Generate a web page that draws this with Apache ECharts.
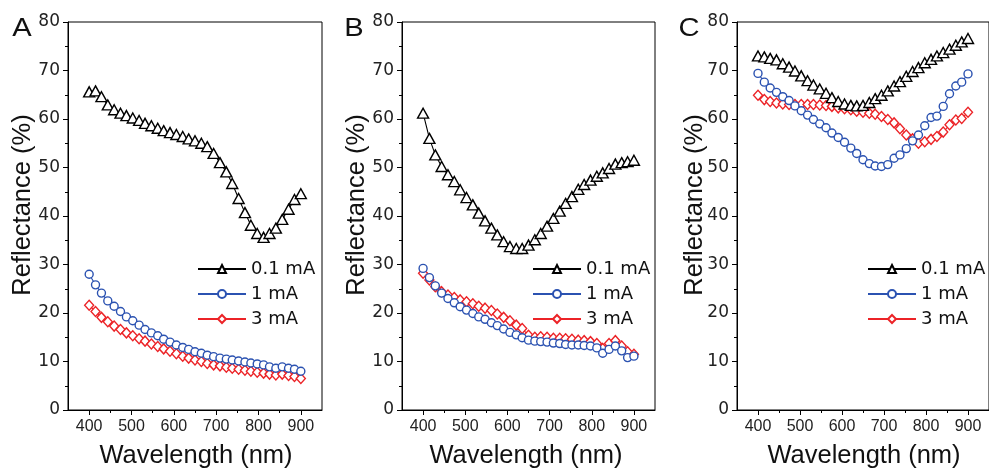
<!DOCTYPE html>
<html><head><meta charset="utf-8">
<script src="https://cdn.jsdelivr.net/npm/echarts@6/dist/echarts.min.js"></script>
<style>html,body{margin:0;padding:0;background:#fff}#c{width:989px;height:475px}</style>
</head><body><div id="c"></div>
<script>
// Wavelength grid (nm)
const wavelengths = [400,415,429,444,459,474,488,503,518,532,547,562,576,591,606,621,635,650,665,679,694,709,724,738,753,768,782,797,812,826,841,856,871,885,900];

// Panel A
const panelA_01 = [65.6,65.8,64.6,62.9,61.9,61.2,60.7,60.2,59.7,59.1,58.6,58.1,57.6,57.2,56.8,56.4,55.9,55.5,55.0,54.3,52.9,51.0,49.1,46.7,43.6,40.7,38.1,36.4,35.6,36.4,37.5,39.3,41.4,43.4,44.6];
const panelA_1  = [28.0,25.8,24.1,22.5,21.4,20.3,19.2,18.4,17.5,16.6,15.9,15.3,14.6,14.0,13.4,12.9,12.5,12.0,11.7,11.3,11.0,10.7,10.5,10.3,10.1,9.9,9.7,9.5,9.3,8.9,8.6,8.9,8.6,8.4,8.0];
const panelA_3  = [21.6,20.3,19.1,18.2,17.3,16.6,15.9,15.3,14.7,14.2,13.6,13.1,12.6,12.1,11.6,11.1,10.7,10.3,10.0,9.6,9.3,9.1,8.8,8.6,8.4,8.2,8.0,7.8,7.6,7.4,7.2,7.4,7.1,6.9,6.5];

// Panel B
const panelB_01 = [61.2,56.0,52.6,50.2,48.5,47.1,45.4,43.8,42.3,40.6,39.0,37.5,36.1,34.7,33.7,33.3,33.3,34.0,35.1,36.4,37.9,39.5,41.0,42.6,44.0,45.5,46.5,47.4,48.2,48.9,49.8,50.7,51.0,51.2,51.5];
const panelB_1  = [29.2,27.3,25.6,24.1,23.0,22.1,21.3,20.6,19.9,19.2,18.7,18.0,17.4,16.7,16.0,15.5,14.9,14.4,14.2,14.1,14.0,13.8,13.7,13.5,13.4,13.4,13.3,13.2,12.8,11.7,12.5,13.2,12.2,10.8,11.1];
const panelB_3  = [28.2,26.8,25.4,24.4,23.7,23.2,22.7,22.3,21.9,21.4,21.0,20.5,19.8,19.1,18.4,17.5,16.8,15.4,15.0,15.1,15.0,14.8,14.8,14.7,14.6,14.4,14.3,14.1,13.7,12.7,13.7,14.3,13.2,12.0,11.5];

// Panel C
const panelC_01 = [73.0,72.8,72.5,72.2,71.4,70.7,69.9,68.9,67.9,67.0,66.2,65.3,64.4,63.6,63.1,62.8,62.7,62.8,63.4,64.2,64.9,65.8,66.8,67.7,68.8,69.8,70.6,71.6,72.3,73.0,73.7,74.4,75.2,75.9,76.6];
const panelC_1  = [69.4,67.6,66.4,65.5,64.6,63.8,62.7,61.7,60.8,59.9,59.0,58.2,57.1,56.2,55.2,54.0,52.9,51.6,50.8,50.3,50.2,50.6,51.9,52.6,53.9,55.5,56.7,58.6,60.3,60.6,62.6,65.2,66.8,67.6,69.3];
const panelC_3  = [64.9,64.0,63.6,63.3,63.1,63.0,63.0,63.0,63.0,63.0,62.9,62.8,62.6,62.3,62.1,61.9,61.6,61.4,61.2,61.0,60.5,59.9,59.2,58.0,56.7,55.9,55.0,55.3,55.8,56.4,57.3,58.8,59.8,60.1,61.4];

// Ticks / labels
const xTickLabels = [400,500,600,700,800,900];
const xMinorTicks = [450,550,650,750,850];
const seriesNames = ['0.1 mA','1 mA','3 mA'];
const panelLetters = ['A','B','C'];
const xTitle = 'Wavelength (nm)';
const yTitle = 'Reflectance (%)';

const colors = {'0.1 mA':'#000000','1 mA':'#2b52b1','3 mA':'#ec2327'};
const symbols = {'0.1 mA':'triangle','1 mA':'circle','3 mA':'diamond'};
const sizes = {'0.1 mA':[11,10],'1 mA':8,'3 mA':[9,10]};

const panelData = [
  {'0.1 mA':panelA_01,'1 mA':panelA_1,'3 mA':panelA_3},
  {'0.1 mA':panelB_01,'1 mA':panelB_1,'3 mA':panelB_3},
  {'0.1 mA':panelC_01,'1 mA':panelC_1,'3 mA':panelC_3}
];
const layout = [
  {left:68,  width:254, legendLeft:197, letterX:22,  yTitleX:23,  xTitleX:196},
  {left:402, width:253, legendLeft:532, letterX:354, yTitleX:357, xTitleX:526},
  {left:737, width:252, legendLeft:867, letterX:689, yTitleX:695, xTitleX:864}
];

const grids=[], xAxes=[], yAxes=[], series=[], legends=[], graphics=[];
layout.forEach((L,k)=>{
  grids.push({left:L.left, top:22, width:L.width, height:388, show:true, borderColor:'#000', borderWidth:1, backgroundColor:'transparent'});
  xAxes.push({type:'value', gridIndex:k, min:350, max:950, position:'bottom',
    axisLine:{show:true, onZero:false, lineStyle:{color:'#000', width:1}},
    axisTick:{show:true, length:5, customValues:xTickLabels, lineStyle:{color:'#000', width:1}},
    axisLabel:{customValues:xTickLabels, fontFamily:'Liberation Sans', fontSize:16, color:'#222', margin:9},
    splitLine:{show:false}});
  xAxes.push({type:'value', gridIndex:k, min:350, max:950, position:'bottom',
    axisLine:{show:false, onZero:false},
    axisTick:{show:true, length:3, customValues:xMinorTicks, lineStyle:{color:'#000', width:1}},
    axisLabel:{show:false}, splitLine:{show:false}});
  yAxes.push({type:'value', gridIndex:k, min:0, max:80, interval:10,
    axisLine:{show:true, lineStyle:{color:'#000', width:1}},
    axisTick:{show:true, length:5, lineStyle:{color:'#000', width:1}},
    minorTick:{show:true, splitNumber:2, length:3, lineStyle:{color:'#000', width:1}},
    axisLabel:{fontFamily:'DejaVu Sans', fontSize:17, color:'#222', margin:8},
    splitLine:{show:false}, minorSplitLine:{show:false}});
  ['3 mA','1 mA','0.1 mA'].forEach(name=>{
    const vals = panelData[k][name];
    series.push({type:'line', name, xAxisIndex:2*k, yAxisIndex:k,
      data: wavelengths.map((w,i)=>[w, vals[i]]),
      symbol:symbols[name], symbolSize:sizes[name], showSymbol:true,
      lineStyle:{color:colors[name], width:1.1},
      itemStyle:{color:'#fff', borderColor:colors[name], borderWidth:1.4},
      emphasis:{disabled:true}, animation:false});
  });
  legends.push({data:seriesNames, orient:'vertical', left:L.legendLeft, top:260, padding:0,
    itemWidth:48, itemHeight:10, itemGap:7, selectedMode:false,
    textStyle:{fontFamily:'DejaVu Sans', fontSize:18, color:'#111'}});
  graphics.push({type:'text', x:L.letterX, y:29, scaleX:1.12,
    style:{text:panelLetters[k], fontFamily:'Liberation Sans', fontSize:26, fill:'#111', align:'center', verticalAlign:'middle'}});
  graphics.push({type:'text', x:L.yTitleX, y:205, rotation:Math.PI/2,
    style:{text:yTitle, fontFamily:'Liberation Sans', fontSize:25.5, fill:'#111', align:'center', verticalAlign:'middle'}});
  graphics.push({type:'text', x:L.xTitleX, y:456,
    style:{text:xTitle, fontFamily:'Liberation Sans', fontSize:25.5, fill:'#111', align:'center', verticalAlign:'middle'}});
});

const chart = echarts.init(document.getElementById('c'), null, {renderer:'canvas'});
chart.setOption({animation:false, backgroundColor:'#fff', grid:grids, xAxis:xAxes, yAxis:yAxes, series, legend:legends, graphic:graphics});
</script></body></html>
